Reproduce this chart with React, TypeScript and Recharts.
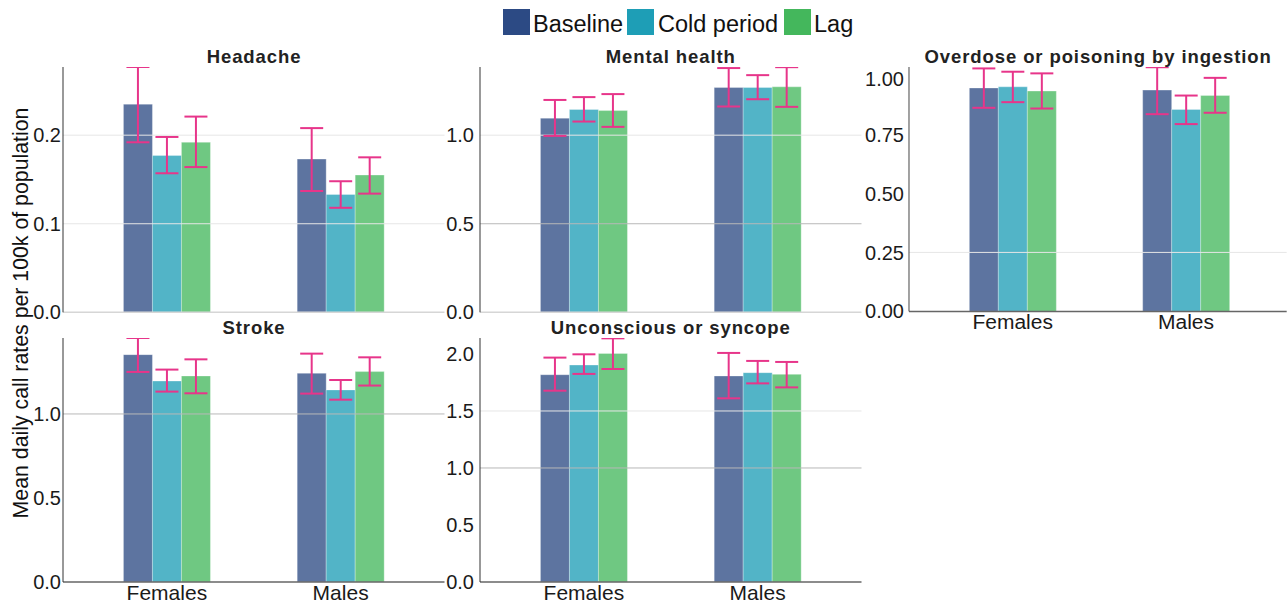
import React from "react";
import {
  BarChart,
  Bar,
  XAxis,
  YAxis,
  ErrorBar,
  ReferenceLine,
} from "recharts";

const FONT = '"Liberation Sans", Arial, Helvetica, sans-serif';

const SEXES = ["Females", "Males"];

const SERIES = [
  { key: "baseline", label: "Baseline", color: "#2c4a84" },
  { key: "cold", label: "Cold period", color: "#1e9eb6" },
  { key: "lag", label: "Lag", color: "#44b75c" },
];

const ERR_COLOR = "#e7358a";

// mean rates and 95% CI per sex (Females, Males)
const HEADACHE_BASELINE = [0.235, 0.173];
const HEADACHE_BASELINE_CI = [[0.192, 0.277], [0.137, 0.208]];
const HEADACHE_COLD = [0.177, 0.133];
const HEADACHE_COLD_CI = [[0.157, 0.198], [0.118, 0.148]];
const HEADACHE_LAG = [0.192, 0.155];
const HEADACHE_LAG_CI = [[0.164, 0.221], [0.134, 0.175]];

const MENTAL_BASELINE = [1.096, 1.269];
const MENTAL_BASELINE_CI = [[0.996, 1.199], [1.162, 1.379]];
const MENTAL_COLD = [1.145, 1.269];
const MENTAL_COLD_CI = [[1.077, 1.215], [1.203, 1.339]];
const MENTAL_LAG = [1.139, 1.273];
const MENTAL_LAG_CI = [[1.047, 1.232], [1.16, 1.384]];

const OVERDOSE_BASELINE = [0.947, 0.938];
const OVERDOSE_BASELINE_CI = [[0.863, 1.03], [0.836, 1.035]];
const OVERDOSE_COLD = [0.952, 0.856];
const OVERDOSE_COLD_CI = [[0.887, 1.016], [0.794, 0.915]];
const OVERDOSE_LAG = [0.934, 0.915];
const OVERDOSE_LAG_CI = [[0.86, 1.009], [0.842, 0.99]];

const STROKE_BASELINE = [1.353, 1.242];
const STROKE_BASELINE_CI = [[1.25, 1.452], [1.121, 1.359]];
const STROKE_COLD = [1.196, 1.143];
const STROKE_COLD_CI = [[1.133, 1.264], [1.085, 1.202]];
const STROKE_LAG = [1.226, 1.252];
const STROKE_LAG_CI = [[1.123, 1.325], [1.169, 1.337]];

const SYNCOPE_BASELINE = [1.818, 1.807];
const SYNCOPE_BASELINE_CI = [[1.678, 1.968], [1.611, 2.009]];
const SYNCOPE_COLD = [1.903, 1.836];
const SYNCOPE_COLD_CI = [[1.825, 1.997], [1.742, 1.939]];
const SYNCOPE_LAG = [2.005, 1.821];
const SYNCOPE_LAG_CI = [[1.868, 2.137], [1.707, 1.93]];

const HEADACHE_TICKS = [0, 0.1, 0.2];
const MENTAL_TICKS = [0, 0.5, 1.0];
const OVERDOSE_TICKS = [0, 0.25, 0.5, 0.75, 1.0];
const STROKE_TICKS = [0, 0.5, 1.0];
const SYNCOPE_TICKS = [0, 0.5, 1.0, 1.5, 2.0];

type CI = number[][];

function buildRows(
  baseline: number[], baselineCI: CI,
  cold: number[], coldCI: CI,
  lag: number[], lagCI: CI
) {
  return SEXES.map((name, i) => ({
    name,
    baseline: baseline[i],
    baselineErr: [baseline[i] - baselineCI[i][0], baselineCI[i][1] - baseline[i]],
    cold: cold[i],
    coldErr: [cold[i] - coldCI[i][0], coldCI[i][1] - cold[i]],
    lag: lag[i],
    lagErr: [lag[i] - lagCI[i][0], lagCI[i][1] - lag[i]],
  }));
}

type PanelProps = {
  title: string;
  rows: ReturnType<typeof buildRows>;
  left: number;
  top: number;
  plotW: number;
  plotH: number;
  yMax: number;
  ticks: number[];
  digits: number;
  tickGap: number;
  padRight: number;
  showX: boolean;
  xAxisColor: string;
  yAxisColor: string;
  lightGrid: number[];
  darkGrid: number[];
};

const Y_W = 60;
const X_H = 40;

function Panel(p: PanelProps) {
  return (
    <>
      <div
        style={{
          position: "absolute",
          left: p.left + Y_W + p.plotW / 2 - 250,
          top: p.top - 20.5,
          width: 500,
          textAlign: "center",
          fontFamily: FONT,
          fontWeight: "bold",
          fontSize: 18.5,
          letterSpacing: 0.9,
          lineHeight: "20px",
          color: "#222",
          whiteSpace: "nowrap",
        }}
      >
        {p.title}
      </div>
      <div style={{ position: "absolute", left: p.left, top: p.top }}>
        <BarChart
          width={Y_W + p.plotW}
          height={p.plotH + X_H}
          data={p.rows}
          margin={{ top: 0, right: 0, bottom: 0, left: 0 }}
          barCategoryGap="25%"
          barGap={0}
        >
          {p.lightGrid.map((v) => (
            <ReferenceLine key={`l${v}`} y={v} stroke="#e6e6e6" strokeWidth={1} />
          ))}
          {p.darkGrid.map((v) => (
            <ReferenceLine key={`d${v}`} y={v} stroke="#b8b8b8" strokeWidth={1} />
          ))}
          <XAxis
            dataKey="name"
            height={X_H}
            interval={0}
            tickLine={false}
            tickSize={0}
            tickMargin={3}
            axisLine={{ stroke: p.xAxisColor, strokeWidth: 1.5 }}
            padding={{ left: 17, right: p.padRight }}
            tick={p.showX ? { fontSize: 21, fill: "#1a1a1a", fontFamily: FONT } : false}
          />
          <YAxis
            type="number"
            width={Y_W}
            domain={[0, p.yMax]}
            allowDataOverflow
            ticks={p.ticks}
            tickFormatter={(v: number) => v.toFixed(p.digits)}
            tickLine={false}
            tickSize={0}
            tickMargin={p.tickGap}
            axisLine={{ stroke: p.yAxisColor }}
            tick={{ fontSize: 20, fill: "#1a1a1a", fontFamily: FONT }}
          />
          {SERIES.map((s) => (
            <Bar
              key={s.key}
              dataKey={s.key}
              fill={s.color}
              fillOpacity={0.77}
              stroke="#ffffff"
              strokeOpacity={0.3}
              strokeWidth={1}
              isAnimationActive={false}
            >
              <ErrorBar
                dataKey={`${s.key}Err`}
                direction="y"
                width={11.5}
                stroke={ERR_COLOR}
                strokeWidth={2}
                isAnimationActive={false}
              />
            </Bar>
          ))}
        </BarChart>
      </div>
    </>
  );
}

export default function App() {
  const headache = buildRows(
    HEADACHE_BASELINE, HEADACHE_BASELINE_CI,
    HEADACHE_COLD, HEADACHE_COLD_CI,
    HEADACHE_LAG, HEADACHE_LAG_CI
  );
  const mental = buildRows(
    MENTAL_BASELINE, MENTAL_BASELINE_CI,
    MENTAL_COLD, MENTAL_COLD_CI,
    MENTAL_LAG, MENTAL_LAG_CI
  );
  const overdose = buildRows(
    OVERDOSE_BASELINE, OVERDOSE_BASELINE_CI,
    OVERDOSE_COLD, OVERDOSE_COLD_CI,
    OVERDOSE_LAG, OVERDOSE_LAG_CI
  );
  const stroke = buildRows(
    STROKE_BASELINE, STROKE_BASELINE_CI,
    STROKE_COLD, STROKE_COLD_CI,
    STROKE_LAG, STROKE_LAG_CI
  );
  const syncope = buildRows(
    SYNCOPE_BASELINE, SYNCOPE_BASELINE_CI,
    SYNCOPE_COLD, SYNCOPE_COLD_CI,
    SYNCOPE_LAG, SYNCOPE_LAG_CI
  );

  const legendX = [
    { box: 503, text: 533 },
    { box: 627, text: 658 },
    { box: 784, text: 814 },
  ];

  return (
    <div
      style={{
        position: "absolute",
        left: 0,
        top: 0,
        width: 1288,
        height: 607,
        background: "#ffffff",
        overflow: "hidden",
        fontFamily: FONT,
      }}
    >
      {SERIES.map((s, i) => (
        <React.Fragment key={s.key}>
          <div
            style={{
              position: "absolute",
              left: legendX[i].box,
              top: 9,
              width: 27,
              height: 26,
              background: s.color,
            }}
          />
          <div
            style={{
              position: "absolute",
              left: legendX[i].text,
              top: 10.5,
              fontSize: 23.5,
              lineHeight: "26px",
              color: "#111",
              whiteSpace: "nowrap",
            }}
          >
            {s.label}
          </div>
        </React.Fragment>
      ))}

      <div
        style={{
          position: "absolute",
          left: 21,
          top: 313,
          transform: "translate(-50%, -50%) rotate(-90deg)",
          fontSize: 21.3,
          color: "#111",
          whiteSpace: "nowrap",
        }}
      >
        Mean daily call rates per 100k of population
      </div>

      <Panel
        title="Headache"
        rows={headache}
        left={3.3}
        top={67}
        plotW={381.5}
        plotH={245.3}
        yMax={0.277}
        ticks={HEADACHE_TICKS}
        digits={1}
        tickGap={2}
        padRight={17}
        showX={false}
        xAxisColor="#d6d6d6"
        yAxisColor="#333"
        lightGrid={[0.1, 0.2]}
        darkGrid={[]}
      />
      <Panel
        title="Mental health"
        rows={mental}
        left={420}
        top={67}
        plotW={381.5}
        plotH={245.3}
        yMax={1.385}
        ticks={MENTAL_TICKS}
        digits={1}
        tickGap={6}
        padRight={17}
        showX={false}
        xAxisColor="#d6d6d6"
        yAxisColor="#333"
        lightGrid={[1.0]}
        darkGrid={[0.5]}
      />
      <Panel
        title="Overdose or poisoning by ingestion"
        rows={overdose}
        left={849.3}
        top={67.3}
        plotW={377.7}
        plotH={244.4}
        yMax={1.036}
        ticks={OVERDOSE_TICKS}
        digits={2}
        tickGap={5}
        padRight={14}
        showX
        xAxisColor="#666"
        yAxisColor="#444"
        lightGrid={[0.25]}
        darkGrid={[]}
      />
      <Panel
        title="Stroke"
        rows={stroke}
        left={3.3}
        top={338.3}
        plotW={381.5}
        plotH={244}
        yMax={1.452}
        ticks={STROKE_TICKS}
        digits={1}
        tickGap={2}
        padRight={17}
        showX
        xAxisColor="#666"
        yAxisColor="#333"
        lightGrid={[]}
        darkGrid={[1.0]}
      />
      <Panel
        title="Unconscious or syncope"
        rows={syncope}
        left={420}
        top={338.3}
        plotW={381.5}
        plotH={244}
        yMax={2.14}
        ticks={SYNCOPE_TICKS}
        digits={1}
        tickGap={6}
        padRight={17}
        showX
        xAxisColor="#666"
        yAxisColor="#333"
        lightGrid={[1.5]}
        darkGrid={[1.0]}
      />
    </div>
  );
}
